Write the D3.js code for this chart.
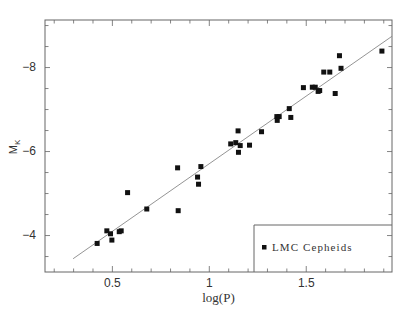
<!DOCTYPE html>
<html>
<head>
<meta charset="utf-8">
<script src="https://cdn.jsdelivr.net/npm/d3@7"></script>
<style>
  body { margin: 0; background: #fff; }
  svg { display: block; }
</style>
</head>
<body>
<div id="chart"></div>
<script>
// LMC Cepheids, K-band period-luminosity
const logP = [0.424, 0.474, 0.493, 0.500, 0.538, 0.548, 0.581, 0.680, 0.839, 0.842,
  0.942, 0.947, 0.959, 1.113, 1.139, 1.151, 1.153, 1.162, 1.210, 1.272,
  1.351, 1.363, 1.353, 1.415, 1.423, 1.488, 1.534, 1.549, 1.564, 1.572,
  1.593, 1.624, 1.652, 1.674, 1.682, 1.893];
const magK = [-3.80, -4.10, -4.03, -3.88, -4.08, -4.10, -5.01, -4.62, -5.60, -4.58,
  -5.38, -5.21, -5.63, -6.17, -6.20, -6.48, -5.97, -6.13, -6.14, -6.46,
  -6.82, -6.82, -6.73, -7.01, -6.80, -7.51, -7.52, -7.52, -7.42, -7.44,
  -7.88, -7.88, -7.37, -8.27, -7.97, -8.38];
// fitted relation M = a + b*logP
const fitSlope = -3.22;
const fitZero = -2.47;
const fitRange = [0.30, 1.945];
const xMajor = [0.5, 1, 1.5];
const yMajor = [-8, -6, -4];
const legendLabel = "LMC Cepheids";

const width = 415, height = 310;
const frame = { left: 45, right: 392, top: 20, bottom: 272 };

const svg = d3.select("#chart").append("svg").attr("width", width).attr("height", height);

const x = d3.scaleLinear().domain([0.155, 1.945]).range([frame.left, frame.right]);
const y = d3.scaleLinear().domain([-3.12, -9.12]).range([frame.bottom, frame.top]);

const axisColor = "#666";

// ticks
const xMinor = d3.range(2, 20).map(d => d / 10).filter(d => !xMajor.includes(d));
const yMinor = d3.range(-9, -3, 0.5).filter(d => !yMajor.includes(d));

const bottomMajor = svg.append("g")
  .attr("transform", `translate(0,${frame.bottom})`)
  .call(d3.axisBottom(x).tickValues(xMajor).tickSize(-6).tickFormat(d3.format("")))
  .call(g => g.select(".domain").remove());
svg.append("g")
  .attr("transform", `translate(0,${frame.bottom})`)
  .call(d3.axisBottom(x).tickValues(xMinor).tickSize(-3.5).tickFormat(""))
  .call(g => g.select(".domain").remove());
svg.append("g")
  .attr("transform", `translate(0,${frame.top})`)
  .call(d3.axisTop(x).tickValues(xMajor).tickSize(-6).tickFormat(""))
  .call(g => g.select(".domain").remove());
svg.append("g")
  .attr("transform", `translate(0,${frame.top})`)
  .call(d3.axisTop(x).tickValues(xMinor).tickSize(-3.5).tickFormat(""))
  .call(g => g.select(".domain").remove());

const leftMajor = svg.append("g")
  .attr("transform", `translate(${frame.left},0)`)
  .call(d3.axisLeft(y).tickValues(yMajor).tickSize(-5).tickFormat(d => "\u2212" + Math.abs(d)))
  .call(g => g.select(".domain").remove());
svg.append("g")
  .attr("transform", `translate(${frame.left},0)`)
  .call(d3.axisLeft(y).tickValues(yMinor).tickSize(-3.5).tickFormat(""))
  .call(g => g.select(".domain").remove());
svg.append("g")
  .attr("transform", `translate(${frame.right},0)`)
  .call(d3.axisRight(y).tickValues(yMajor).tickSize(-5).tickFormat(""))
  .call(g => g.select(".domain").remove());
svg.append("g")
  .attr("transform", `translate(${frame.right},0)`)
  .call(d3.axisRight(y).tickValues(yMinor).tickSize(-3.5).tickFormat(""))
  .call(g => g.select(".domain").remove());

svg.selectAll(".tick line").attr("stroke", axisColor).attr("stroke-width", 0.8);
svg.selectAll(".tick text")
  .attr("fill", "#333")
  .style("font-family", "'Liberation Sans', Arial, sans-serif")
  .style("font-size", "12px");
// push labels outwards
bottomMajor.selectAll(".tick text").attr("y", 6);
leftMajor.selectAll(".tick text").attr("x", -9);

// frame
svg.append("rect")
  .attr("x", frame.left).attr("y", frame.top)
  .attr("width", frame.right - frame.left).attr("height", frame.bottom - frame.top)
  .attr("fill", "none").attr("stroke", axisColor).attr("stroke-width", 1);

// fit line
svg.append("line")
  .attr("x1", x(fitRange[0])).attr("y1", y(fitZero + fitSlope * fitRange[0]))
  .attr("x2", x(fitRange[1])).attr("y2", y(fitZero + fitSlope * fitRange[1]))
  .attr("stroke", "#888").attr("stroke-width", 0.9);

// points
const pts = logP.map((p, i) => ({ p, m: magK[i] }));
const s = 5;
svg.append("g").selectAll("rect")
  .data(pts)
  .join("rect")
  .attr("x", d => x(d.p) - s / 2)
  .attr("y", d => y(d.m) - s / 2)
  .attr("width", s).attr("height", s)
  .attr("fill", "#111");

// legend box
const lg = { x: 254, y: 225 };
svg.append("path")
  .attr("d", `M${lg.x},${frame.bottom}V${lg.y}H${frame.right}`)
  .attr("fill", "none").attr("stroke", axisColor).attr("stroke-width", 1);
svg.append("rect")
  .attr("x", 262).attr("y", 245).attr("width", 4.5).attr("height", 4.5)
  .attr("fill", "#111");
svg.append("text")
  .attr("x", 272).attr("y", 251)
  .style("font-family", "'Liberation Serif', 'Times New Roman', serif")
  .style("font-size", "11px")
  .style("letter-spacing", "1.1px")
  .attr("fill", "#333")
  .text(legendLabel);

// axis titles
svg.append("text")
  .attr("x", (frame.left + frame.right) / 2).attr("y", 302)
  .attr("text-anchor", "middle")
  .style("font-family", "'Liberation Serif', 'Times New Roman', serif")
  .style("font-size", "13px")
  .attr("fill", "#333")
  .text("log(P)");

const yt = svg.append("text")
  .attr("transform", "translate(17,147) rotate(-90)")
  .attr("text-anchor", "middle")
  .style("font-family", "'Liberation Sans', Arial, sans-serif")
  .style("font-size", "11px")
  .attr("fill", "#333");
yt.append("tspan").text("M");
yt.append("tspan").attr("dy", 3).style("font-size", "8px").text("K");
</script>
</body>
</html>
